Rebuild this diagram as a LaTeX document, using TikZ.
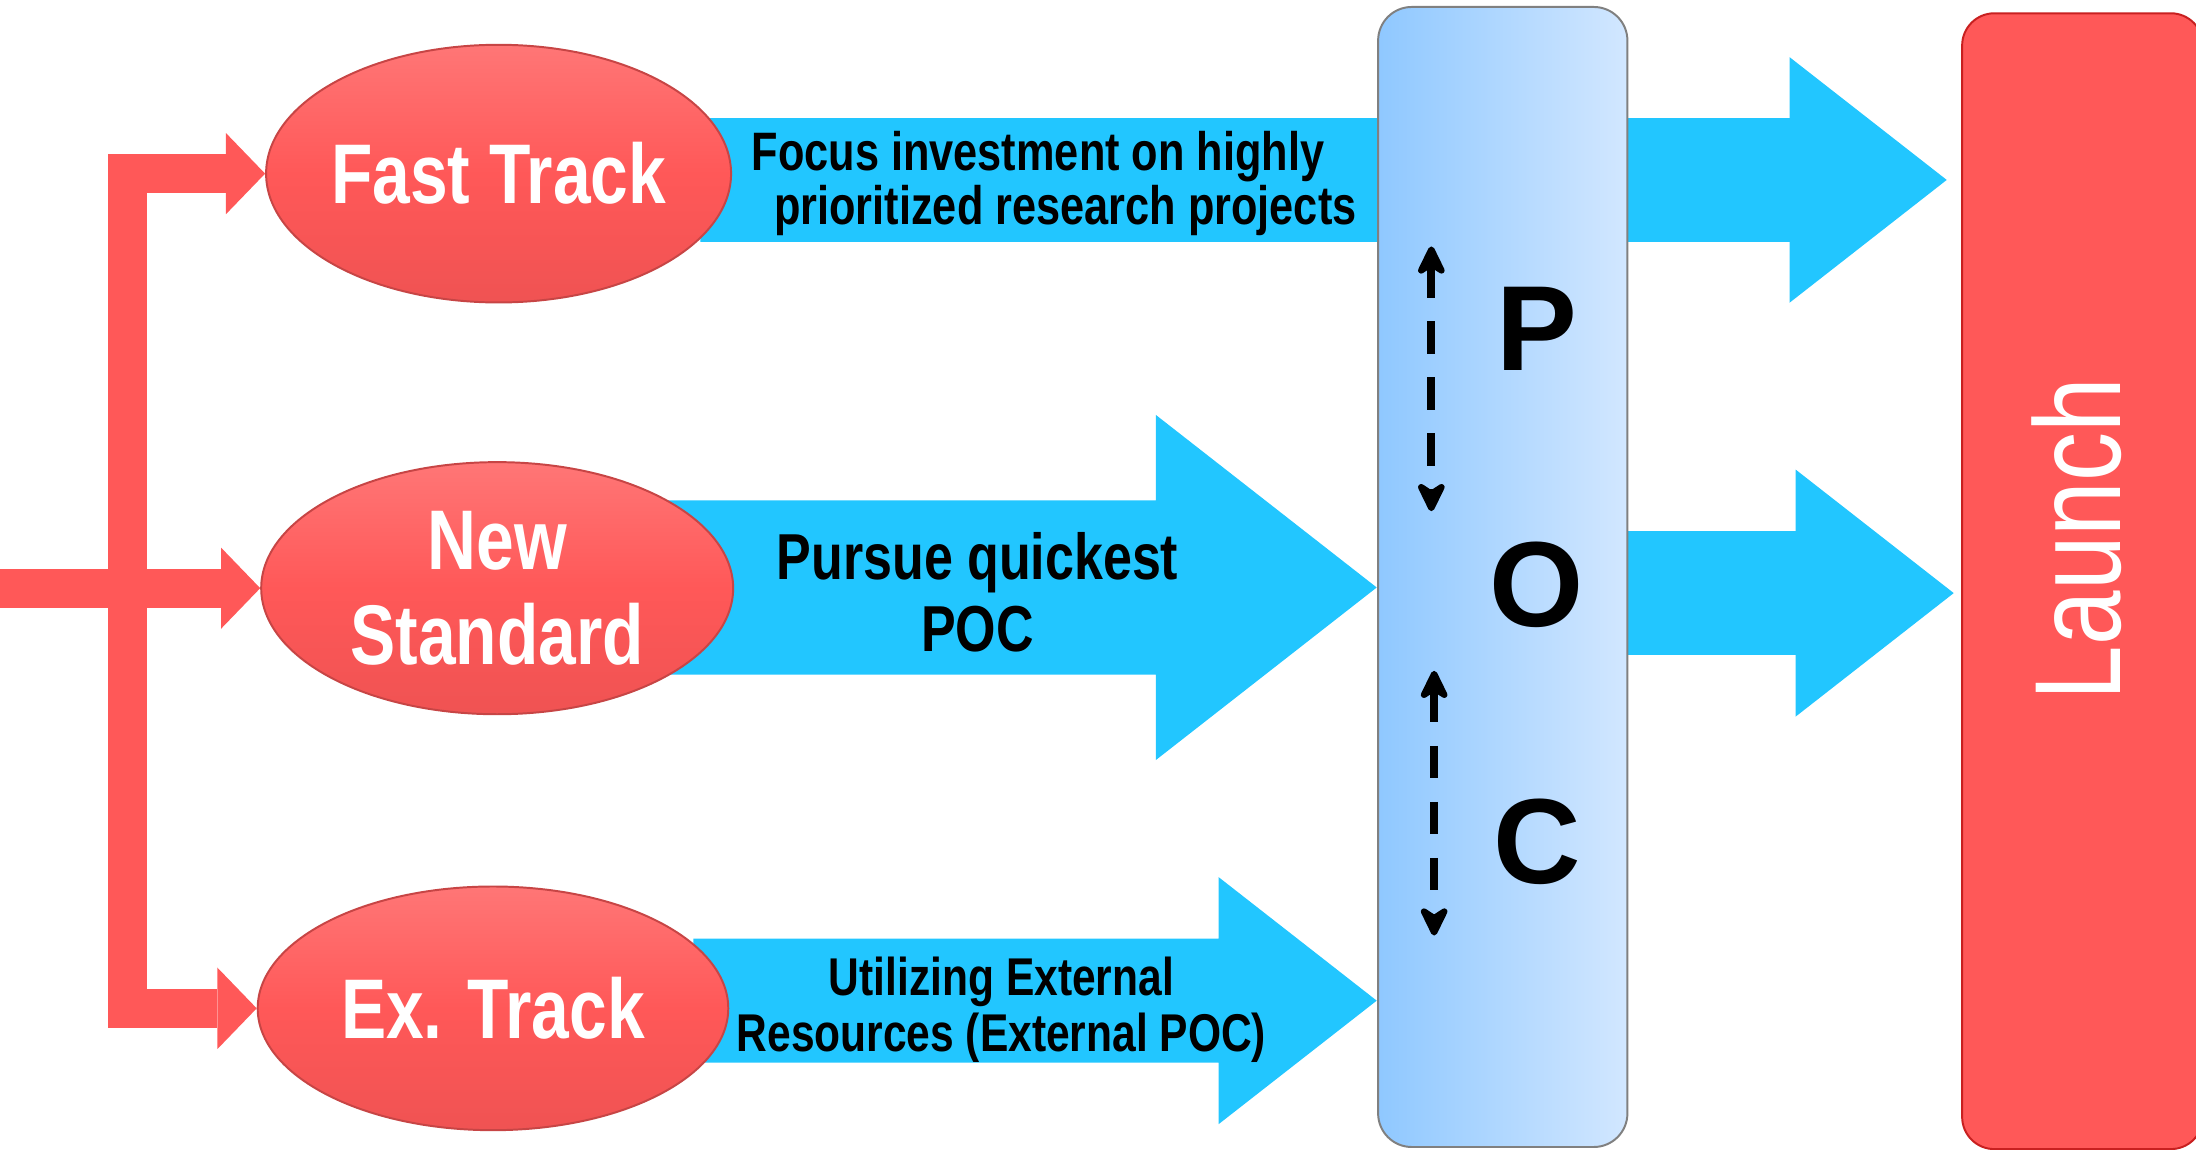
\documentclass[tikz,border=0pt]{standalone}
\usepackage{fontspec}
\setmainfont{Liberation Sans}
\newfontfamily\notefont[FakeStretch=0.8]{Liberation Sans Bold}
\newfontfamily\launchfont[FakeStretch=0.8]{Liberation Sans}
\newfontfamily\pocfont{Liberation Sans Bold}
\usetikzlibrary{shapes.arrows,shapes.geometric,arrows.meta,calc}
\definecolor{ared}{RGB}{255,88,88}
\definecolor{dred}{RGB}{200,32,32}
\definecolor{ablue}{RGB}{34,198,255}
\definecolor{lpoc}{RGB}{143,200,255}
\definecolor{rpoc}{RGB}{210,231,255}
\tikzset{%
    % tip for the red branches
    Branch/.tip={Triangle[length=0.28cm,width=0.58cm,line width=0pt]},
    % style for the wide blue arrows
    block arrow/.style={%
        fill=ablue,
        shape=single arrow,
        inner sep=0pt,
        outer sep=0pt,
        single arrow tip angle=76,
        anchor=tip,
    },
    % style for the red tracks
    track/.style={%
        shape=ellipse,
        top color=ared!82!white,
        bottom color=ared!94!black,
        middle color=ared,
        draw=ared!78!black,
        thin,
        inner xsep=-3mm,
        inner ysep=0pt,
        text=white,
        align=center,
        font={\notefont\fontsize{17.2}{19.3}\selectfont},
    },
    % style for the red feed lines
    trunk/.style={%
        draw=ared,
        line width=0.28cm,
        line join=miter,
        -Branch,
    },
    % style for the texts on the arrows
    note/.style={%
        inner sep=0pt,
        text=black,
    },
    % style for the POC column
    poc box/.style={%
        rectangle,
        rounded corners=0.24cm,
        left color=lpoc,
        right color=rpoc,
        draw=gray,
        thin,
        minimum width=1.78cm,
        minimum height=8.14cm,
    },
    % style for the letters P, O, C
    poc letter/.style={%
        inner sep=0pt,
        font={\pocfont\fontsize{24.6}{26}\selectfont},
    },
    % style for the dashed double arrows
    poc link/.style={%
        line width=0.055cm,
        dash pattern=on 0.23cm off 0.17cm,
        {Stealth[length=0.26cm,width=0.25cm,inset=0.08cm,round]}-%
        {Stealth[length=0.26cm,width=0.25cm,inset=0.08cm,round]},
    },
    % style for the launch column
    launch box/.style={%
        rectangle,
        rounded corners=0.23cm,
        fill=ared,
        draw=dred,
        thin,
        minimum width=1.72cm,
        minimum height=8.11cm,
    },
}

\begin{document}
\begin{tikzpicture}
    % fix the size of the picture
    \useasboundingbox (0,0) rectangle (15.68,8.21);
    \clip (0,0) rectangle (15.68,8.21);
    % blue arrows
    \node (arr-ft) [block arrow, minimum height=8.9cm, inner ysep=0.435cm,
          single arrow head extend=0.435cm] at (13.90,6.925) {};
    \node (arr-ns) [block arrow, minimum height=5.13cm, inner ysep=0.615cm,
          single arrow head extend=0.61cm] at (9.83,4.015) {};
    \node (arr-et) [block arrow, minimum height=4.88cm, inner ysep=0.435cm,
          single arrow head extend=0.44cm] at (9.83,1.065) {};
    \node (arr-out) [block arrow, minimum height=2.95cm, inner ysep=0.435cm,
          single arrow head extend=0.44cm] at (13.95,3.975) {};
    % tracks
    \node (FT) [track, minimum width=3.32cm, minimum height=1.84cm]
          at (3.56,6.97) {Fast Track};
    \node (NS) [track, minimum width=3.37cm, minimum height=1.80cm]
          at (3.55,4.01) {New\\Standard};
    \node (ET) [track, minimum width=3.36cm, minimum height=1.74cm]
          at (3.52,1.01) {Ex. Track};
    % red feed lines
    \coordinate (edge) at (0,0);
    \coordinate (spine) at (0.91,0);
    \draw [trunk] (edge |- NS.west) -- (NS.west);
    \draw [trunk, Branch-Branch] (FT.west) -- (FT.west -| spine)
          -- (ET.west -| spine) -- (ET.west);
    % POC column
    \node (POC) [poc box] at (10.73,4.09) {};
    \foreach \ch/\yy in {P/5.86,O/4.035,C/2.20}
        \node (poc-\ch) [poc letter] at (10.975,\yy) {\ch};
    %% dashed links
    \coordinate (up-a) at (10.22,6.45);
    \coordinate (up-b) at (10.22,4.56);
    \coordinate (lo-a) at (10.24,3.42);
    \coordinate (lo-b) at (10.24,1.53);
    \draw [poc link] (up-a) -- (up-b);
    \draw [poc link] (lo-a) -- (lo-b);
    % launch column
    \node (launch) [launch box] at (14.87,4.06) {};
    \node (launch-txt) [rotate=90, inner sep=0pt, text=white,
          font={\launchfont\fontsize{24.9}{26}\selectfont}]
          at (14.83,4.36) {Launch};
    % texts on the arrows
    \node (focus) [note, align=left, anchor=west,
          font={\notefont\fontsize{11}{11.1}\selectfont}] at (5.36,6.90)
          {Focus investment on highly\\\hspace*{0.16cm}prioritized research projects};
    \node (pursue) [note, align=center,
          font={\notefont\fontsize{13.2}{14.5}\selectfont}] at (6.98,3.98)
          {Pursue quickest\\POC};
    \node (extern) [note, align=center,
          font={\notefont\fontsize{10.8}{11.5}\selectfont}] at (7.15,1.00)
          {Utilizing External\\Resources (External POC)};
\end{tikzpicture}
\end{document}
